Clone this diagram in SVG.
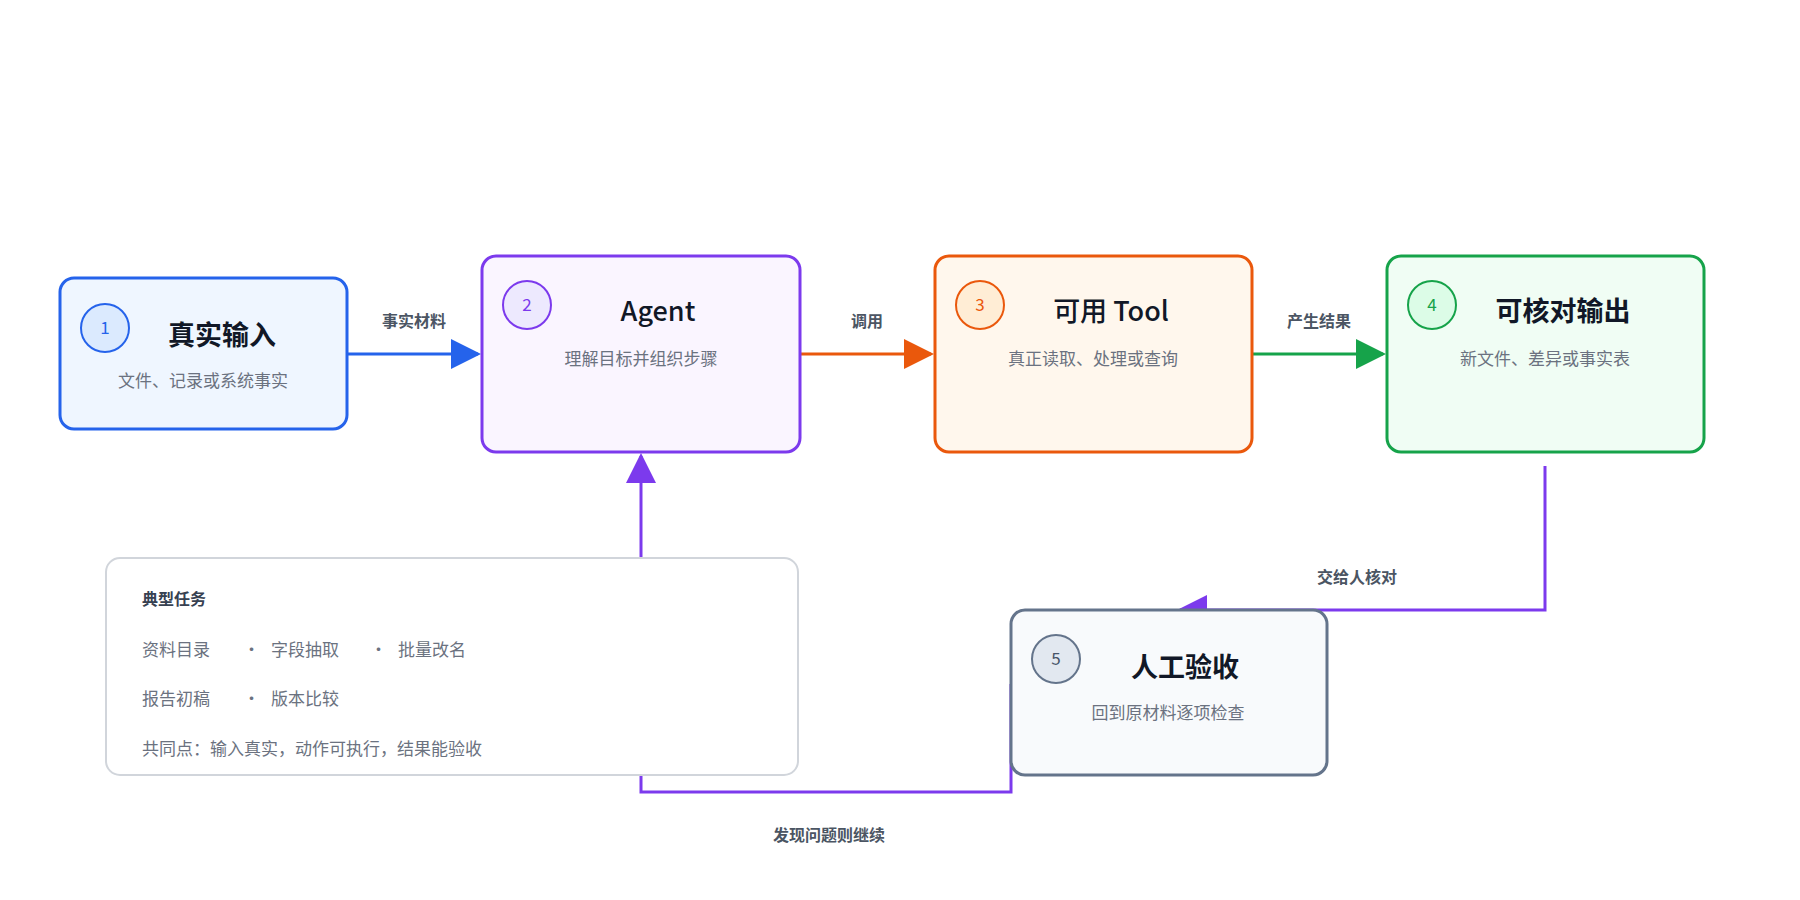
<svg xmlns="http://www.w3.org/2000/svg" width="1800" height="900" viewBox="0 0 1800 900">
<style>
text{font-family:"Noto Sans CJK SC","Noto Sans",sans-serif}
.t{font-size:27px;font-weight:700;fill:#111827;text-anchor:middle}
.s{font-size:17px;fill:#6b7280;text-anchor:middle}
.n{font-size:17px;text-anchor:middle}
.l{font-size:16px;font-weight:700;fill:#4b5563;text-anchor:middle}
.k{font-size:17px;fill:#6b7280}
</style>
<defs>
<marker id="mb" markerWidth="10" markerHeight="10" refX="9" refY="5" orient="auto" markerUnits="strokeWidth"><path d="M0,0L10,5L0,10z" fill="#2563eb"/></marker>
<marker id="mo" markerWidth="10" markerHeight="10" refX="9" refY="5" orient="auto" markerUnits="strokeWidth"><path d="M0,0L10,5L0,10z" fill="#ea580c"/></marker>
<marker id="mg" markerWidth="10" markerHeight="10" refX="9" refY="5" orient="auto" markerUnits="strokeWidth"><path d="M0,0L10,5L0,10z" fill="#16a34a"/></marker>
<marker id="mp" markerWidth="10" markerHeight="10" refX="9" refY="5" orient="auto" markerUnits="strokeWidth"><path d="M0,0L10,5L0,10z" fill="#7c3aed"/></marker>
</defs>
<rect width="1800" height="900" fill="#fff"/>
<g id="connectors" fill="none" stroke-width="3">
<path d="M347,354H478" stroke="#2563eb" marker-end="url(#mb)"/>
<path d="M800,354H931" stroke="#ea580c" marker-end="url(#mo)"/>
<path d="M1252,354H1383" stroke="#16a34a" marker-end="url(#mg)"/>
<path d="M641,558V456" stroke="#7c3aed" marker-end="url(#mp)"/>
<path d="M1545,466V610H1180" stroke="#7c3aed" marker-end="url(#mp)"/>
<path d="M641,775V792H1011V684" stroke="#7c3aed"/>
<text class="l" x="414" y="327">事实材料</text>
<text class="l" x="867" y="327">调用</text>
<text class="l" x="1319" y="327">产生结果</text>
<text class="l" x="1357" y="583">交给人核对</text>
<text class="l" x="829" y="841">发现问题则继续</text>
</g>
<g id="tasks">
<rect x="106" y="558" width="692" height="217" rx="14" fill="#fff" stroke="#d1d5db" stroke-width="2"/>
<text x="142" y="605" style="font-size:16px;font-weight:700;fill:#374151">典型任务</text>
<text class="k" x="142" y="656">资料目录</text><text class="k" x="243" y="656">·</text><text class="k" x="271" y="656">字段抽取</text><text class="k" x="370" y="656">·</text><text class="k" x="398" y="656">批量改名</text>
<text class="k" x="142" y="705">报告初稿</text><text class="k" x="243" y="705">·</text><text class="k" x="271" y="705">版本比较</text>
<text class="k" x="142" y="755">共同点：输入真实，动作可执行，结果能验收</text>
</g>
<g id="node1">
<rect x="60" y="278" width="287" height="151" rx="14" fill="#eff6ff" stroke="#2563eb" stroke-width="3"/>
<circle cx="105" cy="328" r="24" fill="#dbeafe" stroke="#2563eb" stroke-width="2"/>
<text class="n" x="105" y="334" fill="#2563eb">1</text>
<text class="t" x="222" y="345">真实输入</text>
<text class="s" x="203" y="387">文件、记录或系统事实</text>
</g>
<g id="node2">
<rect x="482" y="256" width="318" height="196" rx="14" fill="#faf5ff" stroke="#7c3aed" stroke-width="3"/>
<circle cx="527" cy="305" r="24" fill="#ede9fe" stroke="#7c3aed" stroke-width="2"/>
<text class="n" x="527" y="311" fill="#7c3aed">2</text>
<text class="t" x="658" y="321" style="font-weight:500">Agent</text>
<text class="s" x="641" y="365">理解目标并组织步骤</text>
</g>
<g id="node3">
<rect x="935" y="256" width="317" height="196" rx="14" fill="#fff7ed" stroke="#ea580c" stroke-width="3"/>
<circle cx="980" cy="305" r="24" fill="#ffedd5" stroke="#ea580c" stroke-width="2"/>
<text class="n" x="980" y="311" fill="#ea580c">3</text>
<text class="t" x="1111" y="321" style="font-weight:500">可用 Tool</text>
<text class="s" x="1093" y="365">真正读取、处理或查询</text>
</g>
<g id="node4">
<rect x="1387" y="256" width="317" height="196" rx="14" fill="#f0fdf4" stroke="#16a34a" stroke-width="3"/>
<circle cx="1432" cy="305" r="24" fill="#dcfce7" stroke="#16a34a" stroke-width="2"/>
<text class="n" x="1432" y="311" fill="#16a34a">4</text>
<text class="t" x="1563" y="321">可核对输出</text>
<text class="s" x="1545" y="365">新文件、差异或事实表</text>
</g>
<g id="node5">
<rect x="1011" y="610" width="316" height="165" rx="14" fill="#f8fafc" stroke="#64748b" stroke-width="3"/>
<circle cx="1056" cy="659" r="24" fill="#e2e8f0" stroke="#64748b" stroke-width="2"/>
<text class="n" x="1056" y="665" fill="#475569">5</text>
<text class="t" x="1185" y="677">人工验收</text>
<text class="s" x="1168" y="719">回到原材料逐项检查</text>
</g>
</svg>
